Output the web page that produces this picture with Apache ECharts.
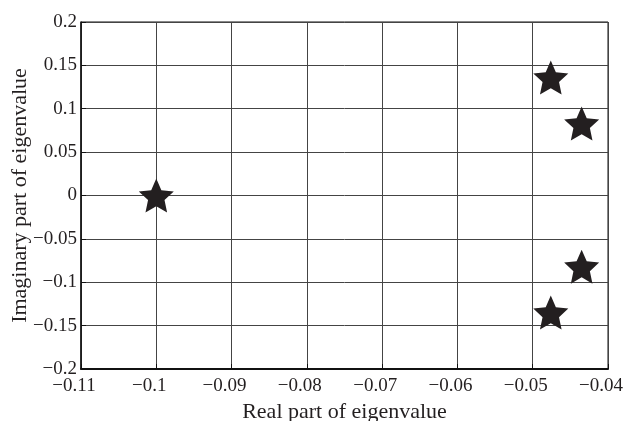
<!DOCTYPE html>
<html>
<head>
<meta charset="utf-8">
<script src="https://cdn.jsdelivr.net/npm/echarts@6/dist/echarts.min.js"></script>
<style>html,body{margin:0;padding:0;background:#fff;}#c{width:625px;height:421px;}</style>
</head>
<body>
<div id="c"></div>
<script>
const realParts = [-0.1, -0.0476, -0.0435, -0.0435, -0.0476];
const imagParts = [0.0, 0.136, 0.083, -0.082, -0.135];
const xTickLabels = ['−0.11','−0.1','−0.09','−0.08','−0.07','−0.06','−0.05','−0.04'];
const yTickLabels = ['−0.2','−0.15','−0.1','−0.05','0','0.05','0.1','0.15','0.2'];

const points = realParts.map((x, i) => [x, imagParts[i]]);
const starPath = 'path://M100 0 L127.6 62 L195.1 69.1 L144.7 114.5 L158.8 180.9 L100 147 L41.2 180.9 L55.3 114.5 L4.9 69.1 L72.4 62 Z';
const font = '"Liberation Serif", "DejaVu Serif", serif';

const chart = echarts.init(document.getElementById('c'), null, {renderer: 'canvas'});
chart.setOption({
  animation: false,
  backgroundColor: '#fff',
  grid: {left: 81, right: 17, top: 22, bottom: 52, containLabel: false, outerBoundsMode: 'none',
    show: true, borderColor: '#111', borderWidth: 1},
  xAxis: {
    type: 'value', min: -0.11, max: -0.04, interval: 0.01,
    name: 'Real part of eigenvalue', nameLocation: 'middle', nameGap: 32,
    nameTextStyle: {fontFamily: font, fontSize: 22, color: '#231f20'},
    axisLine: {show: true, onZero: false, lineStyle: {color: '#111', width: 2}},
    axisTick: {show: true, inside: true, length: 5, lineStyle: {color: '#111'}},
    axisLabel: {fontFamily: font, fontSize: 19, color: '#231f20', margin: 8,
      padding: [0, 14, 0, 0],
      formatter: (v) => xTickLabels[Math.round((v + 0.11) / 0.01)]},
    splitLine: {show: true, lineStyle: {color: '#444', width: 1}}
  },
  yAxis: {
    type: 'value', min: -0.2, max: 0.2, interval: 0.05,
    name: 'Imaginary part of eigenvalue', nameLocation: 'middle', nameGap: 50,
    nameMoveOverlap: false,
    nameTextStyle: {fontFamily: font, fontSize: 22, color: '#231f20'},
    axisLine: {show: true, onZero: false, lineStyle: {color: '#111', width: 1.5}},
    axisTick: {show: true, inside: true, length: 5, lineStyle: {color: '#111'}},
    axisLabel: {fontFamily: font, fontSize: 19, color: '#231f20', margin: 4,
      formatter: (v) => yTickLabels[Math.round((v + 0.2) / 0.05)]},
    splitLine: {show: true, lineStyle: {color: '#444', width: 1}}
  },
  series: [{
    type: 'scatter',
    data: points,
    symbol: starPath,
    symbolSize: [35, 34],
    itemStyle: {color: '#231f20', opacity: 1}
  }]
});
</script>
</body>
</html>
